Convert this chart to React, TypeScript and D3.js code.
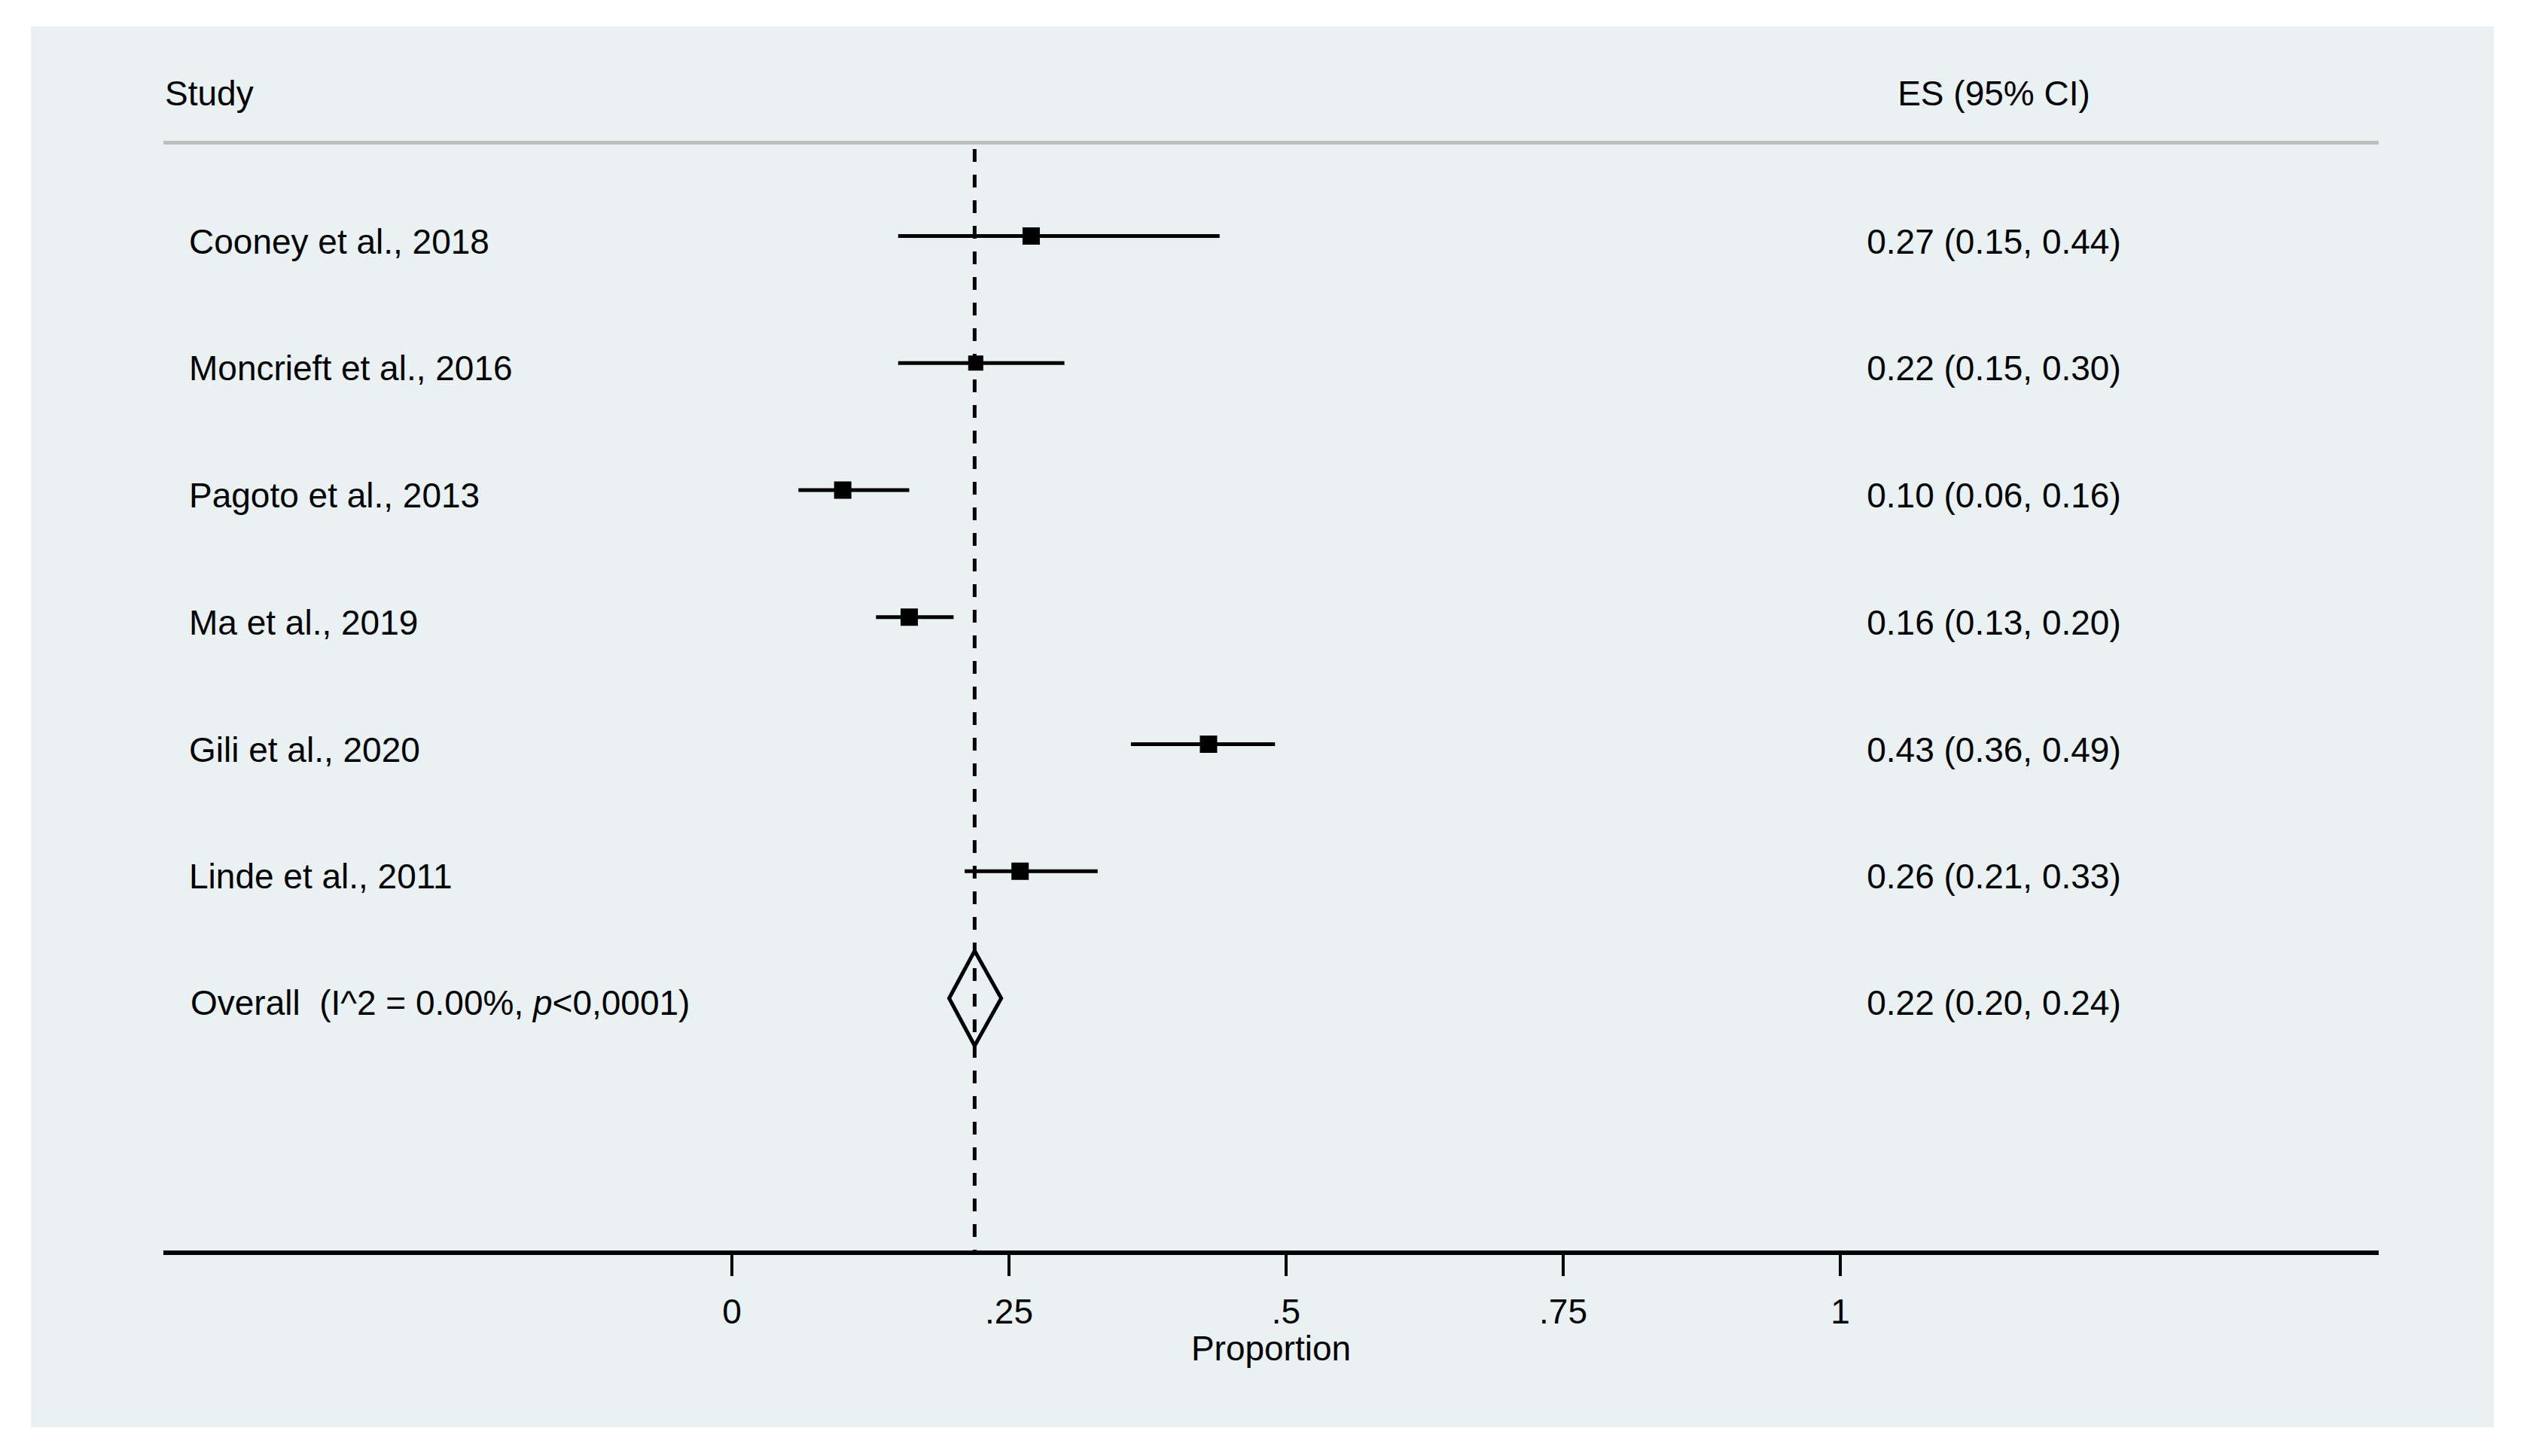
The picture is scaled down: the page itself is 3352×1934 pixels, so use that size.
import React from 'react';
import * as d3 from 'd3';

// study-level estimates (proportion with 95% CI)
const studies = [
	'Cooney et al., 2018',
	'Moncrieft et al., 2016',
	'Pagoto et al., 2013',
	'Ma et al., 2019',
	'Gili et al., 2020',
	'Linde et al., 2011',
];
const es = [0.27, 0.22, 0.1, 0.16, 0.43, 0.26];
const lower = [0.15, 0.15, 0.06, 0.13, 0.36, 0.21];
const upper = [0.44, 0.3, 0.16, 0.2, 0.49, 0.33];
const boxWeight = [1, 0.76, 1, 1, 1, 1];

// pooled estimate
const overallEs = 0.219;
const overallLower = 0.196;
const overallUpper = 0.243;

const xTicks = [0, 0.25, 0.5, 0.75, 1];

const W = 3352;
const H = 1934;
const FONT = '"Liberation Sans", Arial, Helvetica, sans-serif';
const FS = 46;

const fmt = (v: number) => v.toFixed(2);
const tickFmt = (v: number) => (v === 0 || v === 1 ? String(v) : String(v).replace(/^0/, ''));

const App: React.FC = () => {
	const x = d3.scaleLinear().domain([0, 1]).range([972, 2444]);
	const rows = [...studies, 'overall'];
	const y = d3
		.scaleLinear()
		.domain([0, rows.length - 1])
		.range([313.5, 1326]);
	const box = d3.scaleSqrt().domain([0, 1]).range([0, 23]);

	const left = 217;
	const right = 3159;
	const axisY = 1664;
	const colX = 2648;

	const yo = y(rows.length - 1);
	const diamond = d3.line()([
		[x(overallLower), yo],
		[x(overallEs), yo - 63],
		[x(overallUpper), yo],
		[x(overallEs), yo + 63],
	]) + 'Z';

	return (
		<svg
			width={W}
			height={H}
			style={{ position: 'absolute', left: 0, top: 0, background: '#fff' }}
			fontFamily={FONT}
			fontSize={FS}>
			<rect x={41} y={35} width={3312 - 41} height={1896 - 35} fill='#eaf1f3' />

			{/* header */}
			<text x={219} y={140} fill='#000'>
				Study
			</text>
			<text x={colX} y={140} textAnchor='middle' fill='#000'>
				ES (95% CI)
			</text>
			<line x1={left} x2={right} y1={189.5} y2={189.5} stroke='#bfbfbf' strokeWidth={5} />

			{/* reference line at pooled estimate */}
			<line
				x1={x(overallEs)}
				x2={x(overallEs)}
				y1={198}
				y2={axisY - 3}
				stroke='#000'
				strokeWidth={5}
				strokeDasharray='17 17'
			/>

			{/* studies */}
			{studies.map((s, i) => {
				const cy = y(i);
				const b = box(boxWeight[i]);
				return (
					<g key={s}>
						<text x={251} y={cy + 23}>
							{s}
						</text>
						<line x1={x(lower[i])} x2={x(upper[i])} y1={cy} y2={cy} stroke='#000' strokeWidth={5} />
						<rect x={x(es[i]) - b / 2} y={cy - b / 2} width={b} height={b} fill='#000' />
						<text x={colX} y={cy + 23} textAnchor='middle'>
							{`${fmt(es[i])} (${fmt(lower[i])}, ${fmt(upper[i])})`}
						</text>
					</g>
				);
			})}

			{/* overall */}
			<text x={253} y={yo + 22} style={{ whiteSpace: 'pre' }}>
				{'Overall  (I^2 = 0.00%, '}
				<tspan fontStyle='italic'>p</tspan>
				{'<0,0001)'}
			</text>
			<path d={diamond} fill='none' stroke='#000' strokeWidth={5} strokeLinejoin='miter' />
			<text x={colX} y={yo + 22} textAnchor='middle'>
				{`${fmt(overallEs)} (${fmt(overallLower)}, ${fmt(overallUpper)})`}
			</text>

			{/* x axis */}
			<line x1={left} x2={right} y1={axisY} y2={axisY} stroke='#000' strokeWidth={6} />
			{xTicks.map((t) => (
				<g key={t}>
					<line x1={x(t)} x2={x(t)} y1={axisY + 3} y2={axisY + 31} stroke='#000' strokeWidth={4} />
					<text x={x(t)} y={1758} textAnchor='middle'>
						{tickFmt(t)}
					</text>
				</g>
			))}
			<text x={(left + right) / 2} y={1807} textAnchor='middle'>
				Proportion
			</text>
		</svg>
	);
};

export default App;
